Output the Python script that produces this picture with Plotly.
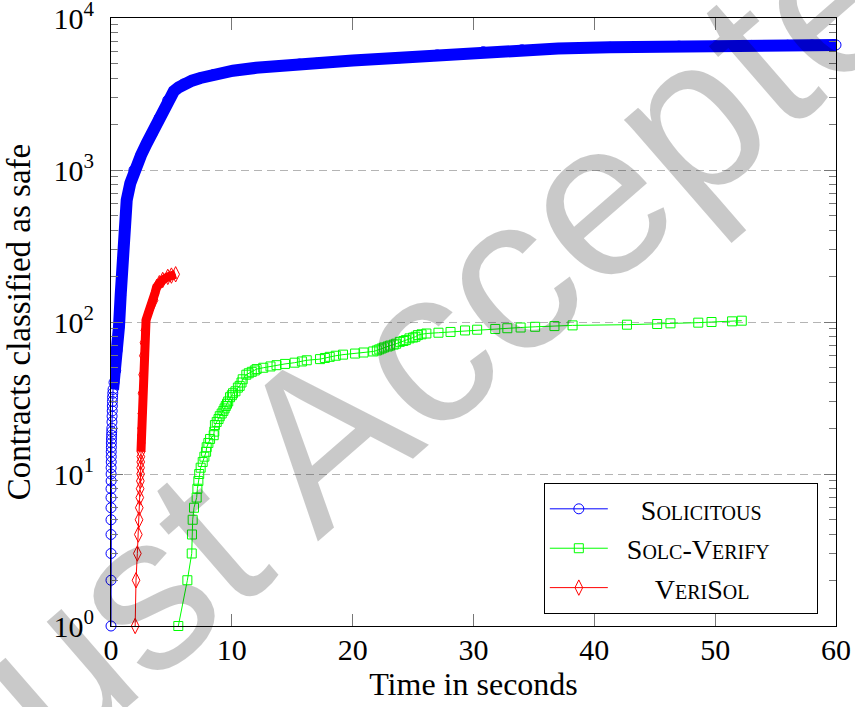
import plotly.graph_objects as go

# ---------------- data ----------------
solicitous_t = [0.00, 0.00, 0.00, 0.00, 0.00, 0.00, 0.00, 0.00, 0.01, 0.01, 0.01, 0.02, 0.02, 0.02,
                0.03, 0.03, 0.04, 0.05, 0.06, 0.07, 0.08, 0.09, 0.10, 0.11, 0.12, 0.13, 0.15,
                0.17, 0.25, 0.39, 0.50, 0.66, 0.80, 0.95, 1.10, 1.30, 1.60, 1.90, 2.48, 2.96,
                3.40, 3.99, 4.70, 5.20, 5.60, 6.00, 6.70, 7.40, 8.50, 10.1, 12.0, 14.0, 15.6,
                17.0, 20.0, 23.9, 27.0, 30.8, 34.0, 37.0, 41.3, 44.0, 47.0, 50.0, 53.0, 56.0,
                58.0, 60.0]
solicitous_n = [1, 2, 3, 4, 5, 6, 7, 8, 9, 10, 11, 12, 13, 14,
                15, 16, 17, 18, 19, 20, 22, 24, 26, 28, 30, 32, 34,
                36, 40, 48, 65, 93, 150, 257, 400, 634, 820, 1000, 1250, 1500,
                1740, 2200, 2880, 3300, 3500, 3680, 3870, 4030, 4250, 4500, 4700, 4870, 4980,
                5040, 5250, 5480, 5720, 6000, 6180, 6300, 6420, 6480, 6530, 6570, 6600, 6620,
                6640, 6650]

solcverify_t = [5.57, 6.32, 6.68, 6.70, 6.76, 6.87, 7.09, 7.15, 7.23, 7.30, 7.42, 7.59, 7.73, 7.87,
                7.92, 8.06, 8.20, 8.50, 8.55, 8.60, 8.75, 8.90, 9.00, 9.16, 9.30, 9.40, 9.50,
                9.60, 9.70, 9.85, 10.0, 10.1, 10.3, 10.5, 10.65, 10.8, 10.9, 11.2, 11.4, 11.65,
                11.9, 12.05, 12.6, 13.2, 13.7, 14.4, 15.2, 15.8, 16.2, 17.3, 17.7, 18.1, 18.6,
                19.2, 20.2, 20.9, 21.7, 22.0, 22.2, 22.4, 22.6, 22.9, 23.1, 23.4, 23.6, 23.9,
                24.2, 24.4, 24.7, 25.0, 25.2, 25.4, 25.7, 26.1, 27.1, 28.1, 29.3, 30.3, 31.8,
                32.8, 33.9, 35.1, 36.7, 38.2, 42.7, 45.2, 46.3, 48.6, 49.7, 51.4, 52.2]
solcverify_n = [1, 2, 3, 4, 5, 6, 7, 8, 9, 10, 11, 12, 13, 14,
                15, 16, 17, 18, 19, 21, 22, 23, 24, 25, 26, 27, 28,
                29, 30, 32, 33, 34, 35, 37, 38, 40, 42, 45, 46, 47,
                48, 49, 50, 51, 52, 53, 54, 55, 56, 57, 58, 59, 60,
                61, 62, 63, 64, 65, 66, 67, 68, 69, 70, 71, 72, 74,
                75, 76, 78, 79, 80, 82, 83, 84, 85, 86, 88, 89, 90,
                91, 92, 93, 94, 95, 96, 97, 98, 99, 100, 101, 102]

verisol_t = [2.00, 2.07, 2.18, 2.26, 2.32, 2.34, 2.38, 2.41, 2.43, 2.45, 2.45, 2.46, 2.47, 2.48,
             2.50, 2.52, 2.53, 2.55, 2.57, 2.62, 2.68, 2.73, 2.80, 2.90, 3.10, 3.30, 3.56,
             3.64, 3.78, 4.00, 4.28, 4.70, 5.00, 5.35]
verisol_n = [1, 2, 3, 4, 5, 6, 7, 8, 9, 10, 11, 12, 13, 14,
             16, 18, 20, 25, 34, 45, 60, 73, 88, 103, 115, 126, 139,
             155, 170, 180, 189, 198, 202, 206]

x_ticks = [0, 10, 20, 30, 40, 50, 60]
y_ticks = [1, 10, 100, 1000, 10000]
y_ticktext = ["10<sup>0</sup>", "10<sup>1</sup>", "10<sup>2</sup>", "10<sup>3</sup>", "10<sup>4</sup>"]

series_names = ["Solicitous", "Solc-Verify", "VeriSol"]

# ---------------- figure ----------------
FONT = "Liberation Serif"
BLUE, GREEN, RED = "#0000ff", "#00ff00", "#ff0000"
NB = "\u00a0"

fig = go.Figure()

# dense band for Solicitous (the overlapping markers in the original)
band_start = next(i for i, v in enumerate(solicitous_n) if v >= 36)
fig.add_trace(go.Scatter(x=solicitous_t[band_start:], y=solicitous_n[band_start:], mode="lines",
                         line=dict(color=BLUE, width=12), showlegend=False, hoverinfo="skip",
                         cliponaxis=False))
fig.add_trace(go.Scatter(x=solicitous_t, y=solicitous_n, mode="lines+markers",
                         name=NB * 4 + series_names[0] + NB * 4,
                         line=dict(color=BLUE, width=1),
                         marker=dict(symbol="circle-open", size=10, color=BLUE, line=dict(width=1)),
                         cliponaxis=False))

fig.add_trace(go.Scatter(x=solcverify_t, y=solcverify_n, mode="lines+markers",
                         name=NB * 2 + series_names[1] + NB * 6,
                         line=dict(color=GREEN, width=1),
                         marker=dict(symbol="square-open", size=9, color=GREEN, line=dict(width=1)),
                         cliponaxis=False))

band_start_r = next(i for i, v in enumerate(verisol_n) if v >= 14)
fig.add_trace(go.Scatter(x=verisol_t[band_start_r:], y=verisol_n[band_start_r:], mode="lines",
                         line=dict(color=RED, width=9), showlegend=False, hoverinfo="skip",
                         cliponaxis=False))
fig.add_trace(go.Scatter(x=verisol_t, y=verisol_n, mode="lines+markers",
                         name=NB * 6 + series_names[2],
                         line=dict(color=RED, width=1),
                         marker=dict(symbol="diamond-tall-open", size=11, color=RED, line=dict(width=1)),
                         cliponaxis=False))

minor_vals = [m * 10 ** d for d in range(4) for m in range(2, 10)]

fig.update_layout(
    width=855, height=707,
    margin=dict(l=111, r=19, t=18, b=81),
    paper_bgcolor="white", plot_bgcolor="white",
    font=dict(family=FONT, size=30, color="black"),
    showlegend=True,
    legend=dict(x=0.597, y=0.235, xanchor="left", yanchor="top",
                bgcolor="white", bordercolor="black", borderwidth=1,
                font=dict(family=FONT, size=28, color="black", variant="small-caps"),
                itemwidth=58, tracegroupgap=0),
    xaxis=dict(range=[0, 60], tickvals=x_ticks, ticks="inside", ticklen=12, tickwidth=1,
               tickcolor="#777777", showline=True, linecolor="black", linewidth=1, mirror="ticks",
               showgrid=False, zeroline=False, ticklabelstandoff=-3, ticklabeloverflow="allow",
               tickfont=dict(family=FONT, size=30),
               title=dict(text="Time in seconds", font=dict(family=FONT, size=32), standoff=6),
               automargin=False),
    yaxis=dict(type="log", range=[0, 4], tickvals=y_ticks, ticktext=y_ticktext,
               ticks="inside", ticklen=12, tickwidth=1, tickcolor="#777777",
               showline=True, linecolor="black", linewidth=1, mirror="ticks",
               showgrid=True, gridcolor="#b4b4b4", gridwidth=1, griddash="8px,5px",
               zeroline=False, ticklabelstandoff=10, ticklabeloverflow="allow",
               minor=dict(tickvals=minor_vals, ticks="inside", ticklen=7, tickcolor="#777777",
                          showgrid=False),
               tickfont=dict(family=FONT, size=30),
               title=dict(text="Contracts classified as safe", font=dict(family=FONT, size=33),
                          standoff=12),
               automargin=False),
)

# watermark
fig.add_annotation(text="Just Accepted", xref="paper", yref="paper", x=0.459, y=0.487,
                   xanchor="center", yanchor="middle", showarrow=False, textangle=-41,
                   font=dict(family="Liberation Sans", size=222, color="rgba(0,0,0,0.21)"))

fig.write_html("out.html", config={"displayModeBar": False},
               post_script="document.body.style.margin='0px';")
